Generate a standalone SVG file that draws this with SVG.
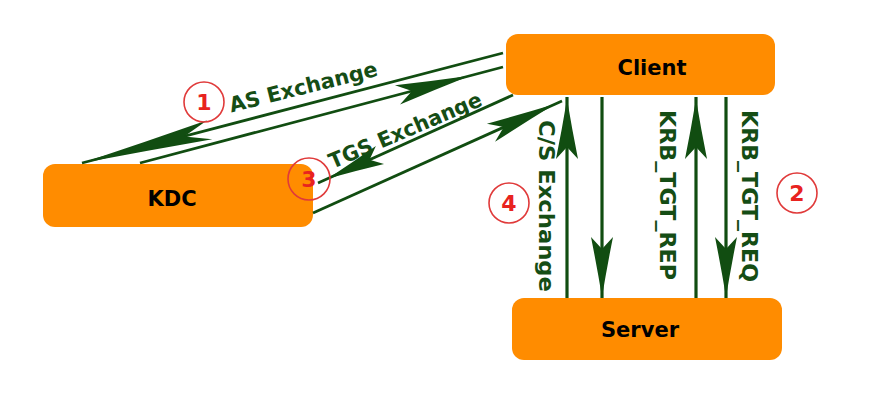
<svg xmlns="http://www.w3.org/2000/svg" xmlns:xlink="http://www.w3.org/1999/xlink" width="878" height="407" viewBox="0 0 878 407">
<style>
.node{fill:#ff8c00}
.nlabel{font-family:"DejaVu Sans",Verdana,sans-serif;font-weight:bold;font-size:21px;fill:#000;text-anchor:middle}
.conn{stroke:#114d11;stroke-width:2.8;fill:none}
.vconn{stroke:#114d11;stroke-width:3.2;fill:none}
.head{fill:#114d11}
.clabel{font-family:"DejaVu Sans",Verdana,sans-serif;font-weight:bold;font-size:21px;fill:#154d15;text-anchor:middle}
.badge{fill:none;stroke:#e03a3a;stroke-width:1.6}
.bnum{font-family:"DejaVu Sans",sans-serif;font-weight:bold;font-size:22px;fill:#e8231f;text-anchor:middle}
</style>
<defs>
<path id="ah" d="M0,0 Q-30,-5 -60,-11 L-48,0 L-60,11 Q-30,5 0,0 Z"/>
</defs>
<rect width="878" height="407" fill="#fff"/>
<g id="kdc">
<rect class="node" x="43" y="164" width="270" height="63" rx="12"/>
<text class="nlabel" x="172" y="206">KDC</text>
</g>
<g id="client">
<rect class="node" x="506" y="34" width="269" height="61" rx="12"/>
<text class="nlabel" x="652" y="75">Client</text>
</g>
<g id="server">
<rect class="node" x="512" y="298" width="270" height="62" rx="12"/>
<text class="nlabel" x="640" y="337">Server</text>
</g>
<g id="connectors">
<line class="conn" x1="82" y1="163" x2="503" y2="53"/>
<use class="head" xlink:href="#ah" transform="translate(82,163) rotate(165.4) scale(2.2,0.9)"/>
<line class="conn" x1="140" y1="163" x2="503" y2="67"/>
<use class="head" xlink:href="#ah" transform="translate(470,75.7) rotate(-14.8) scale(1.25,0.9)"/>
<line class="conn" x1="513" y1="95" x2="318" y2="183"/>
<use class="head" xlink:href="#ah" transform="translate(328,178.5) rotate(155.7) scale(0.95,0.9)"/>
<line class="conn" x1="313" y1="213" x2="562" y2="101"/>
<use class="head" xlink:href="#ah" transform="translate(555,104) rotate(-24.2) scale(1.17,0.9)"/>
<line class="vconn" x1="567" y1="298" x2="567" y2="97"/>
<use class="head" xlink:href="#ah" transform="translate(567,99) rotate(-90)"/>
<line class="vconn" x1="602" y1="97" x2="602" y2="298"/>
<use class="head" xlink:href="#ah" transform="translate(602,297) rotate(90)"/>
<line class="vconn" x1="696" y1="298" x2="696" y2="97"/>
<use class="head" xlink:href="#ah" transform="translate(696,99) rotate(-90)"/>
<line class="vconn" x1="726" y1="97" x2="726" y2="298"/>
<use class="head" xlink:href="#ah" transform="translate(726,297) rotate(90)"/>
<text class="clabel" transform="translate(305,94) rotate(-14)" textLength="152" lengthAdjust="spacingAndGlyphs">AS Exchange</text>
<text class="clabel" transform="translate(408,137) rotate(-23)" textLength="164" lengthAdjust="spacingAndGlyphs">TGS Exchange</text>
<text class="clabel" transform="translate(539,206) rotate(90)" textLength="172" lengthAdjust="spacingAndGlyphs">C/S Exchange</text>
<text class="clabel" transform="translate(660,195) rotate(90)" textLength="170" lengthAdjust="spacingAndGlyphs">KRB_TGT_REP</text>
<text class="clabel" transform="translate(742,196) rotate(90)" textLength="172" lengthAdjust="spacingAndGlyphs">KRB_TGT_REQ</text>
</g>
<g id="badge1">
<circle class="badge" cx="204" cy="102" r="20"/>
<text class="bnum" x="204" y="110">1</text>
</g>
<g id="badge2">
<circle class="badge" cx="797" cy="193" r="20"/>
<text class="bnum" x="797" y="201">2</text>
</g>
<g id="badge3">
<circle class="badge" cx="309" cy="179" r="21"/>
<text class="bnum" x="309" y="187">3</text>
</g>
<g id="badge4">
<circle class="badge" cx="509" cy="203" r="20"/>
<text class="bnum" x="509" y="211">4</text>
</g>
</svg>
